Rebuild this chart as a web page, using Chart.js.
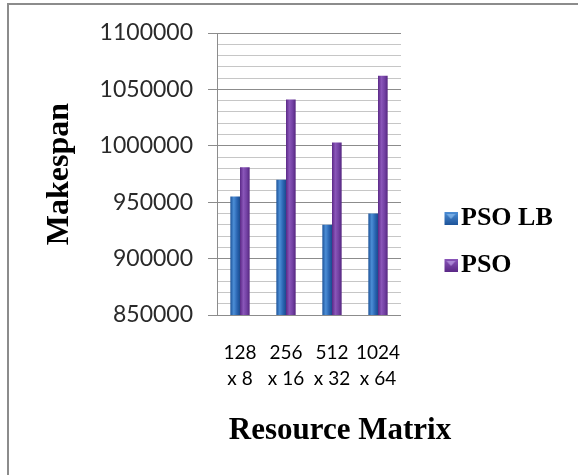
<!DOCTYPE html>
<html>
<head>
<meta charset="utf-8">
<script src="https://cdn.jsdelivr.net/npm/chart.js@4.4.1/dist/chart.umd.min.js"></script>
<style>
    html, body { margin: 0; padding: 0; background: #fff; }
    #wrap { position: relative; width: 578px; height: 475px; overflow: hidden; }
    #frame { position: absolute; left: 7px; top: 3px; width: 620px; height: 520px;
             border-left: 2px solid #8c8c8c; border-top: 2px solid #8c8c8c; }
    canvas { position: absolute; left: 0; top: 0; }
</style>
</head>
<body>
<div id="wrap">
    <div id="frame"></div>
    <canvas id="chart" width="578" height="475"></canvas>
</div>
<script>
// data
var categories = [['128', 'x 8'], ['256', 'x 16'], ['512', 'x 32'], ['1024', 'x 64']];
var seriesNames = ['PSO LB', 'PSO'];
var psoLB = [955000, 970000, 930000, 940000];
var pso = [981000, 1041000, 1003000, 1062000];
var yMin = 850000;
var yMax = 1100000;
var yStep = 10000;
var yMajor = 50000;

var catPct = 0.42;

// cylinder-ish shading across each bar
var shades = [
    ['#1d5399', '#4c8ed6', '#2a65b2', '#1b4b8e'],
    ['#5a2886', '#8a56b9', '#7140a2', '#55267f']
];

function barGradient(context) {
    var chart = context.chart;
    var ds = context.datasetIndex;
    var xScale = chart.scales.x;
    if (!xScale || xScale.right === undefined || context.dataIndex === undefined) {
        return shades[ds][1];
    }
    var center = xScale.getPixelForValue(context.dataIndex);
    var catW = (xScale.right - xScale.left) / categories.length;
    var groupW = catW * catPct;
    var barW = groupW / 2;
    var left = center - groupW / 2 + ds * barW;
    if (!isFinite(left)) return shades[ds][1];
    var g = chart.ctx.createLinearGradient(left, 0, left + barW, 0);
    g.addColorStop(0, shades[ds][0]);
    g.addColorStop(0.35, shades[ds][1]);
    g.addColorStop(0.7, shades[ds][2]);
    g.addColorStop(1, shades[ds][3]);
    return g;
}

// legend markers: small bevelled squares, drawn offset so the text sits close
function legendMarker(ds) {
    var c = document.createElement('canvas');
    c.width = 20;
    c.height = 13;
    var x = c.getContext('2d');
    var g = x.createLinearGradient(7, 0, 7, 13);
    g.addColorStop(0, shades[ds][1]);
    g.addColorStop(1, shades[ds][0]);
    x.fillStyle = g;
    x.fillRect(7, 0, 13, 13);
    x.fillStyle = ds === 0 ? 'rgba(140,190,240,0.7)' : 'rgba(190,160,230,0.7)';
    x.beginPath();
    x.moveTo(9, 2);
    x.lineTo(18, 2);
    x.lineTo(13.5, 7);
    x.closePath();
    x.fill();
    return c;
}
var markers = [legendMarker(0), legendMarker(1)];

var xTitlePlugin = {
    id: 'xTitle',
    afterDraw: function (chart) {
        var ctx = chart.ctx;
        ctx.save();
        ctx.font = 'bold 31px "Liberation Serif"';
        ctx.fillStyle = '#000';
        ctx.textAlign = 'center';
        ctx.textBaseline = 'alphabetic';
        ctx.fillText('Resource Matrix', 340, 439);
        ctx.restore();
    }
};

// the layout caps side boxes at a small width; give the legend a fixed one
var legendWidthPlugin = {
    id: 'legendWidth',
    beforeLayout: function (chart) {
        var lg = chart.legend;
        if (lg && !lg._fixedWidth) {
            var fit = lg.fit;
            lg.fit = function () {
                fit.call(this);
                this.width = 142;
            };
            lg._fixedWidth = true;
        }
    }
};

var ctx = document.getElementById('chart').getContext('2d');
var chart = new Chart(ctx, {
    type: 'bar',
    data: {
        labels: categories,
        datasets: [
            {
                label: seriesNames[0],
                data: psoLB,
                backgroundColor: barGradient,
                categoryPercentage: catPct,
                barPercentage: 1
            },
            {
                label: seriesNames[1],
                data: pso,
                backgroundColor: barGradient,
                categoryPercentage: catPct,
                barPercentage: 1
            }
        ]
    },
    options: {
        responsive: false,
        animation: false,
        devicePixelRatio: 1,
        layout: {
            padding: { left: 30, top: 33, right: 10, bottom: 24 }
        },
        plugins: {
            tooltip: { enabled: false },
            legend: {
                position: 'right',
                labels: {
                    usePointStyle: true,
                    pointStyleWidth: 1,
                    boxHeight: 13,
                    padding: 21,
                    color: '#000',
                    font: { family: '"Liberation Serif"', size: 26, weight: 'bold' },
                    generateLabels: function (chart) {
                        var items = Chart.defaults.plugins.legend.labels.generateLabels(chart);
                        items.forEach(function (it, i) {
                            it.pointStyle = markers[i];
                        });
                        return items;
                    }
                }
            }
        },
        scales: {
            x: {
                grid: { display: false, drawTicks: false },
                border: { display: false },
                ticks: {
                    padding: 25,
                    color: '#000',
                    font: { family: 'Lato', size: 19, lineHeight: 1.35 },
                    maxRotation: 0,
                    autoSkip: false
                },
                afterFit: function (scale) { scale.height = 475 - 24 - 315; }
            },
            y: {
                min: yMin,
                max: yMax,
                border: { display: true, color: '#8c8c8c', width: 1 },
                grid: {
                    color: function (c) { return c.tick && c.tick.value % yMajor === 0 ? '#8c8c8c' : '#c6c6c6'; },
                    tickColor: function (c) { return c.tick && c.tick.value % yMajor === 0 ? '#8c8c8c' : 'rgba(0,0,0,0)'; },
                    tickLength: 9,
                    lineWidth: 1
                },
                ticks: {
                    stepSize: yStep,
                    autoSkip: false,
                    padding: 15,
                    color: '#2a2a2a',
                    font: { family: 'Lato', size: 23 },
                    callback: function (v) { return v % yMajor === 0 ? String(v) : ''; }
                },
                title: {
                    display: true,
                    text: 'Makespan',
                    color: '#000',
                    font: { family: '"Liberation Serif"', size: 32, weight: 'bold' },
                    padding: { top: 11, bottom: 10 }
                },
                afterFit: function (scale) { scale.width = 217 - 30; }
            },
            y2: {
                position: 'right',
                grid: { display: false },
                border: { display: false },
                ticks: { display: false },
                afterFit: function (scale) { scale.width = 25; }
            }
        }
    },
    plugins: [xTitlePlugin, legendWidthPlugin]
});
</script>
</body>
</html>
